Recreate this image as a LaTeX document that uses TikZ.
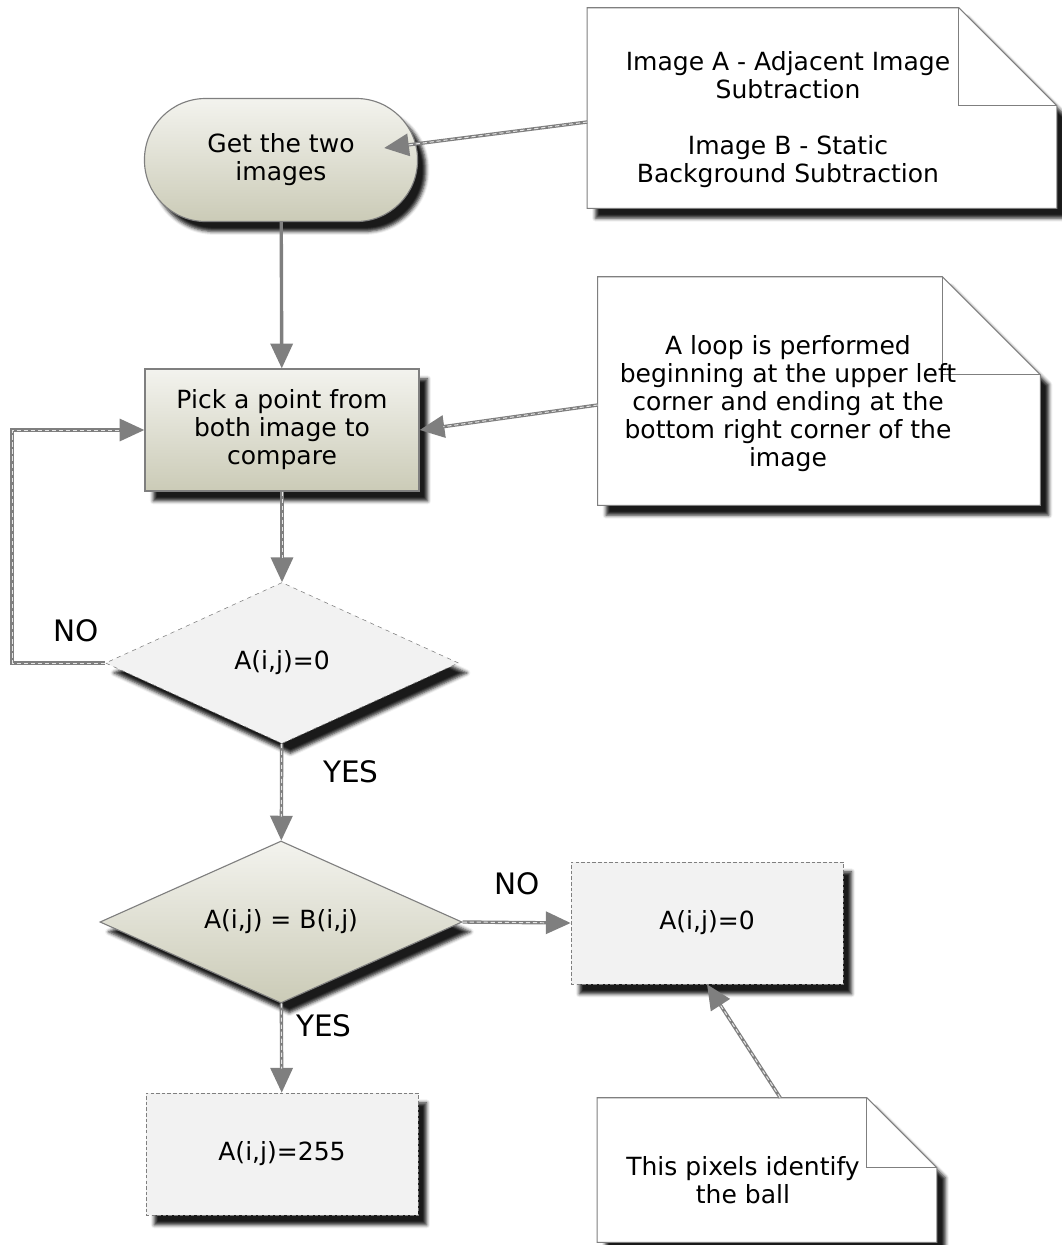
\documentclass[tikz,border=0pt]{standalone}
\usepackage{fontspec}
\setmainfont{DejaVu Sans}
\usetikzlibrary{arrows.meta}
\usetikzlibrary{shapes.geometric}
\usetikzlibrary{shadows.blur}
\usetikzlibrary{backgrounds}
\definecolor{paletop}{HTML}{F3F3EE}
\definecolor{palebot}{HTML}{CBCBB7}
\definecolor{cellgray}{HTML}{F2F2F2}
\definecolor{linegray}{HTML}{7F7F7F}

\tikzset{
 deepshadow/.style={blur shadow={shadow xshift=6pt, shadow yshift=-7pt, shadow opacity=90, shadow blur radius=2.5pt}},
 txt/.style={font=\fontsize{17.8}{19.9}\selectfont, align=center},
 lbl/.style={font=\fontsize{21}{24}\selectfont},
 startstop/.style={txt, rectangle, rounded corners=1.53cm, minimum width=6.825cm, minimum height=3.075cm,
   draw=linegray, thick, top color=paletop, bottom color=palebot, deepshadow},
 process/.style={txt, rectangle, minimum width=6.85cm, minimum height=3.05cm,
   draw=linegray, thick, top color=paletop, bottom color=palebot, deepshadow},
 testzero/.style={txt, diamond, aspect=2.2, inner sep=0pt, minimum width=8.825cm, minimum height=4.025cm,
   draw=linegray, dashed, fill=cellgray, deepshadow},
 testeq/.style={txt, diamond, aspect=2.2, inner sep=0pt, minimum width=9.05cm, minimum height=4.05cm,
   draw=linegray, thick, top color=paletop, bottom color=palebot, deepshadow},
 result/.style={txt, rectangle, minimum width=6.8cm, minimum height=3.05cm,
   draw=linegray, dash pattern=on 2.5pt off 1.5pt, fill=cellgray, deepshadow},
 paper/.style={draw=linegray, thick, fill=white, deepshadow},
 flow/.style={draw=linegray, line width=2.4pt, -{Triangle[length=0.62cm, width=0.55cm]}},
 dflow/.style={flow, postaction={draw=gray!20, line width=0.7pt, dash pattern=on 3pt off 2pt, -, shorten >=0.6cm}},
}

% folded paper behind a note
\newcommand\foldpaper[2]{%
 \begin{scope}[on background layer]
  \draw[paper] (#1.north west) -- ([xshift=-#2]#1.north east) -- ([yshift=-#2]#1.north east)
    -- (#1.south east) -- (#1.south west) -- cycle;
  \draw[linegray, thick] ([xshift=-#2]#1.north east) |- ([yshift=-#2]#1.north east);
 \end{scope}}

\begin{document}
\begin{tikzpicture}[x=0.025cm, y=-0.025cm]
\useasboundingbox (0,0) rectangle (1061,1245);

% main flow
\node[startstop] (start) at (281,160) {Get the two\\images};
\node[process] (pick) at (282,430) {Pick a point from\\both image to\\compare};
\node[testzero] (iszero) at (282,663) {A(i,j)=0};
\node[testeq] (issame) at (281,922) {A(i,j) = B(i,j)};
\node[result] (setzero) at (707,923) {A(i,j)=0};
\node[result] (setfull) at (282,1154) {A(i,j)=255};

% notes
\node[minimum width=11.725cm, minimum height=5cm] (paperA) at (822,108) {};
\node[txt] (noteA) at (788,120) {Image A - Adjacent Image\\Subtraction\\[19.9pt]Image B - Static\\Background Subtraction};
\foldpaper{paperA}{2.45cm}
\node[minimum width=11.05cm, minimum height=5.7cm] (paperB) at (819,391) {};
\node[txt] (noteB) at (788,404) {A loop is performed\\beginning at the upper left\\corner and ending at the\\bottom right corner of the\\image};
\foldpaper{paperB}{2.45cm}
\node[minimum width=8.475cm, minimum height=3.6cm] (paperC) at (767,1170) {};
\node[txt] (noteC) at (743,1180) {This pixels identify\\the ball};
\foldpaper{paperC}{1.75cm}

% labels
\node[lbl] (no1) at (76,631) {NO};
\node[lbl] (yes1) at (351,772) {YES};
\node[lbl] (no2) at (517,884) {NO};
\node[lbl] (yes2) at (324,1026) {YES};

% connectors
\draw[flow] (start) -- (pick);
\draw[dflow] (pick) -- (iszero);
\draw[dflow] (iszero.west) -- ++(-93,0) |- (pick.west);
\draw[dflow] (iszero) -- (issame);
\draw[dflow] (issame.east) -- (setzero.west);
\draw[dflow] (issame) -- (setfull);
\draw[dflow] ([yshift=-0.35cm]paperA.west) -- ([xshift=-0.85cm, yshift=0.3cm]start.east);
\draw[dflow] ([yshift=-0.35cm]paperB.west) -- (pick.east);
\draw[dflow] ([xshift=0.33cm]paperC.north) -- (setzero.south);
\end{tikzpicture}
\end{document}
